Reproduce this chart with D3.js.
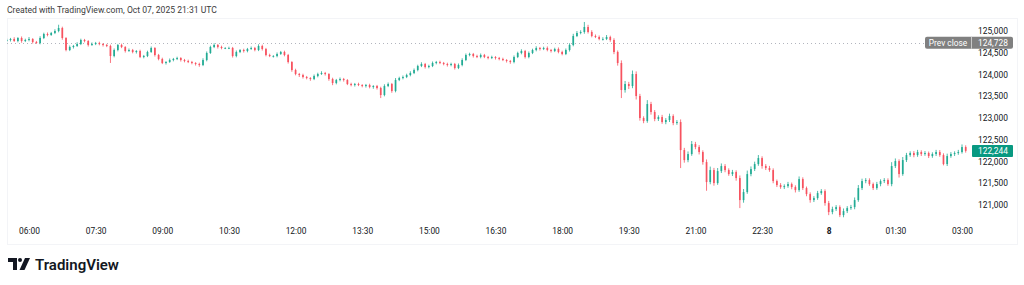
<!DOCTYPE html>
<html><head><meta charset="utf-8">
<script src="https://cdn.jsdelivr.net/npm/d3@7"></script>
<style>body{margin:0;background:#fff;} svg{display:block;font-family:Roboto,"Trebuchet MS",sans-serif;}</style>
</head><body><svg id="c" width="1024" height="285"></svg>
<script>
// ---------- DATA ----------
const startTime = Date.UTC(2025, 9, 7, 5, 30); // first 5-minute candle
const stepMinutes = 5;
const firstOpen = 124780;
const closes = [
124793,124816,124770,124839,124770,124793,124816,124747,124724,124839,
124931,124908,124954,125000,125069,124839,124563,124632,124655,124701,
124793,124770,124678,124701,124724,124701,124678,124655,124425,124563,
124678,124632,124540,124563,124517,124540,124402,124425,124517,124609,
124448,124356,124264,124287,124333,124356,124379,124333,124310,124287,
124264,124241,124218,124333,124494,124632,124678,124632,124609,124609,
124609,124425,124517,124563,124540,124586,124609,124563,124655,124586,
124448,124425,124425,124471,124517,124448,124287,124103,124011,123988,
123942,123919,123896,123965,124011,124034,124011,123896,123804,123873,
123896,123873,123781,123758,123781,123758,123735,123758,123712,123735,
123689,123528,123735,123781,123620,123873,123919,123942,123988,124034,
124103,124195,124241,124172,124195,124264,124287,124264,124241,124218,
124241,124149,124218,124333,124448,124471,124425,124402,124448,124402,
124379,124402,124379,124356,124333,124310,124287,124402,124494,124540,
124402,124494,124563,124609,124586,124609,124563,124540,124586,124517,
124471,124563,124678,124885,124954,124977,125092,124977,124885,124862,
124816,124816,124862,124793,124517,124264,123643,123781,123735,124011,
123505,122999,122930,123321,123137,122976,123022,122907,122953,123045,
122884,122907,122263,122033,122171,122401,122332,122217,121987,121527,
121803,121504,121780,121895,121803,121711,121757,121619,121113,121297,
121711,121826,121941,122079,121895,121849,121803,121550,121458,121412,
121435,121481,121412,121343,121596,121389,121251,121113,121159,121274,
121320,121044,120837,120906,120952,120768,120860,120929,120952,121113,
121389,121550,121573,121481,121389,121481,121550,121573,121481,121895,
122010,121711,122033,122148,122194,122148,122217,122171,122194,122125,
122171,122217,122148,121941,122125,122171,122194,122217,122332,122244
];
const upWick = [
30,25,40,20,35,30,45,20,25,40, 30,35,25,40,75,30,20,35,25,40,
30,25,20,35,25,30,20,25,30,35, 25,30,20,35,25,20,30,25,30,35,
20,25,30,20,35,25,30,20,25,30, 25,20,30,40,35,30,40,25,30,20,
30,25,35,20,30,25,35,25,40,30, 25,30,20,35,25,30,25,20,30,25,
30,25,20,35,30,40,25,20,30,25, 35,25,20,30,25,30,20,25,30,20,
25,30,40,35,25,45,30,35,30,40, 35,30,40,25,30,35,25,30,25,30,
30,25,35,40,35,30,25,30,35,25, 25,30,20,25,30,20,25,35,30,40,
25,35,30,40,25,30,35,25,30,35, 30,35,40,50,45,40,115,50,40,35,
35,40,45,30,40,35,60,70,50,80, 60,50,40,90,50,45,40,50,45,55,
40,45,60,50,60,70,50,45,40,60, 80,50,70,60,45,40,50,40,60,70,
80,60,55,70,40,45,50,40,35,45, 40,50,35,40,60,40,35,40,45,50,
45,40,50,55,45,40,60,45,50,60, 70,55,45,40,35,50,40,45,40,90,
60,40,70,50,40,45,50,40,45,35, 40,50,45,40,55,45,40,50,60,40
];
const downWick = [
25,35,20,30,40,25,30,35,20,30, 25,30,20,25,30,40,30,25,35,20,
25,30,35,20,25,30,35,25,160,30, 30,25,35,20,30,35,25,30,25,20,
35,30,25,35,20,30,25,35,30,25, 30,35,40,25,30,20,25,35,30,25,
25,35,30,25,35,30,20,30,25,35, 30,25,35,30,20,30,35,40,30,45,
35,30,40,25,30,20,35,40,50,30, 30,35,25,30,35,25,30,35,30,40,
35,70,30,25,40,30,25,30,25,30, 25,30,25,35,30,25,30,25,30,35,
30,35,25,30,25,30,35,25,30,25, 30,25,35,30,25,35,40,30,25,30,
35,30,25,30,35,25,30,35,25,30, 30,25,35,30,25,30,40,35,30,25,
30,35,25,40,50,60,185,60,70,50, 80,60,50,40,60,50,45,40,50,45,
50,40,414,60,50,40,50,55,60,200, 50,60,40,45,50,40,45,60,184,60,
40,50,45,40,60,45,40,50,45,40, 45,40,50,55,40,45,50,60,45,40,
40,60,70,50,45,46,50,45,40,50, 40,45,50,40,45,40,50,45,40,50,
45,80,40,45,40,50,40,45,40,45, 40,45,40,30,45,40,45,40,35,40
];
const prevClose = 124728;
const lastPrice = 122244;
const priceTicks = [121000,121500,122000,122500,123000,123500,124000,124500,125000];
const timeTickTimes = ["2025-10-07T06:00Z","2025-10-07T07:30Z","2025-10-07T09:00Z","2025-10-07T10:30Z",
  "2025-10-07T12:00Z","2025-10-07T13:30Z","2025-10-07T15:00Z","2025-10-07T16:30Z","2025-10-07T18:00Z",
  "2025-10-07T19:30Z","2025-10-07T21:00Z","2025-10-07T22:30Z","2025-10-08T00:00Z","2025-10-08T01:30Z","2025-10-08T03:00Z"];
const timeTickLabels = ["06:00","07:30","09:00","10:30","12:00","13:30","15:00","16:30","18:00",
  "19:30","21:00","22:30","8","01:30","03:00"];
const titleText = "Created with TradingView.com, Oct 07, 2025 21:31 UTC";

// ---------- BUILD ----------
const candles = closes.map((c, i) => {
  const o = i === 0 ? firstOpen : closes[i - 1];
  return { t: new Date(startTime + i * stepMinutes * 60000), o, c,
           h: Math.max(o, c) + upWick[i], l: Math.min(o, c) - downWick[i] };
});

const svg = d3.select("#c");
const plotL = 7, plotR = 969, plotT = 18, plotB = 222;
const x = d3.scaleUtc()
  .domain([new Date(timeTickTimes[0]), new Date(timeTickTimes[timeTickTimes.length - 1])])
  .range([29, 962]);
const y = d3.scaleLinear().domain([121000, 125000]).range([205, 31]);

const UP = "#22ab94", DOWN = "#f7525f";

// frame
svg.append("rect").attr("x", 7.5).attr("y", 18.5).attr("width", 1010).attr("height", 226)
  .attr("fill", "none").attr("stroke", "#e6e8ee").attr("stroke-dasharray", "1,1");

// title
svg.append("text").attr("x", 7).attr("y", 13).attr("font-size", 8.6).attr("fill", "#3b3b3b").text(titleText);

// clip
svg.append("clipPath").attr("id", "clip").append("rect")
  .attr("x", plotL).attr("y", plotT).attr("width", plotR - plotL).attr("height", plotB - plotT);
const plot = svg.append("g").attr("clip-path", "url(#clip)");

// prev close dotted line
plot.append("line").attr("x1", plotL).attr("x2", plotR)
  .attr("y1", Math.round(y(prevClose)) + 0.5).attr("y2", Math.round(y(prevClose)) + 0.5)
  .attr("stroke", "#b2b5be").attr("stroke-dasharray", "1,3");

// candles
const bw = 1.7;
const cg = plot.append("g").selectAll("g").data(candles).join("g");
cg.append("line")
  .attr("x1", d => x(d.t)).attr("x2", d => x(d.t))
  .attr("y1", d => y(d.h)).attr("y2", d => y(d.l))
  .attr("stroke", d => d.c >= d.o ? UP : DOWN).attr("stroke-width", 0.8);
cg.append("rect")
  .attr("x", d => x(d.t) - bw / 2).attr("width", bw)
  .attr("y", d => y(Math.max(d.o, d.c)))
  .attr("height", d => Math.max(0.8, Math.abs(y(d.o) - y(d.c))))
  .attr("fill", d => d.c >= d.o ? UP : DOWN);

// price axis
const yAxis = svg.append("g").attr("transform", "translate(978,0)")
  .call(d3.axisRight(y).tickValues(priceTicks).tickFormat(d3.format(",")).tickSize(0).tickPadding(0));
yAxis.select(".domain").remove();
yAxis.selectAll("text").attr("font-size", 8.4).attr("fill", "#131722").attr("font-family", "Roboto,sans-serif");

// time axis
const xAxis = svg.append("g").attr("transform", "translate(0,228)")
  .call(d3.axisBottom(x).tickValues(timeTickTimes.map(s => new Date(s)))
    .tickFormat((d, i) => timeTickLabels[i]).tickSize(0).tickPadding(0));
xAxis.select(".domain").remove();
xAxis.selectAll("text").attr("font-size", 8.4).attr("fill", "#131722").attr("font-family", "Roboto,sans-serif")
  .attr("font-weight", (d, i) => timeTickLabels[i].length === 1 ? "bold" : "normal");

// prev close label
const pcY = y(prevClose);
svg.append("rect").attr("x", 925).attr("y", pcY - 6).attr("width", 88).attr("height", 12).attr("rx", 2).attr("fill", "#808080");
svg.append("line").attr("x1", 971.5).attr("x2", 971.5).attr("y1", pcY - 6).attr("y2", pcY + 6).attr("stroke", "#c8c8c8");
svg.append("text").attr("x", 948).attr("y", pcY + 3).attr("text-anchor", "middle").attr("font-size", 8.4).attr("fill", "#fff").text("Prev close");
svg.append("text").attr("x", 978).attr("y", pcY + 3).attr("font-size", 8.4).attr("fill", "#fff").text(d3.format(",")(prevClose));

// last price label
const lpY = y(lastPrice);
svg.append("rect").attr("x", 972).attr("y", lpY - 6).attr("width", 41).attr("height", 12).attr("rx", 1).attr("fill", "#089981");
svg.append("text").attr("x", 978).attr("y", lpY + 3).attr("font-size", 8.4).attr("fill", "#fff").text(d3.format(",")(lastPrice));

// TradingView logo
const logo = svg.append("g").attr("transform", "translate(8,258)").attr("fill", "#131722");
logo.append("path").attr("d", "M0 0 H9 V12 H5 V4 H0 Z");
logo.append("circle").attr("cx", 12).attr("cy", 2).attr("r", 2);
logo.append("path").attr("d", "M17 0 H22 L16.5 12 H11.5 Z");
svg.append("text").attr("x", 35).attr("y", 270).attr("font-size", 15).attr("font-weight", "600")
  .attr("fill", "#131722").text("TradingView");
</script></body></html>
